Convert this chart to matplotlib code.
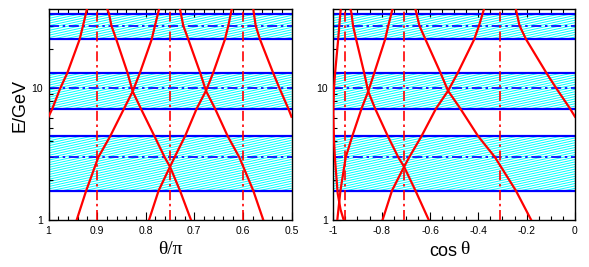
import numpy as np
import matplotlib
matplotlib.use("Agg")
import matplotlib.pyplot as plt
from matplotlib.collections import LineCollection
from matplotlib.ticker import NullFormatter, FixedLocator

# energy bands (GeV): lower edge, centre, upper edge
BAND_LO = [1.67, 7.04, 23.6]
BAND_MID = [3.0, 10.0, 30.0]
BAND_HI = [4.34, 13.2, 36.9]

# marked zenith angles (theta/pi)
THETA_MARKS = [0.9, 0.75, 0.6]

# red curves as (theta/pi, E/GeV)
R1_T = [1.0, 0.992, 0.976, 0.961, 0.936, 0.929, 0.921]
R1_E = [6.1, 7.04, 10.0, 13.2, 23.6, 30.0, 40.0]
R2_T = [0.942, 0.9225, 0.8975, 0.873, 0.8445, 0.8268, 0.8117, 0.7877, 0.781, 0.7726]
R2_E = [1.0, 1.67, 3.0, 4.34, 7.04, 9.5, 13.2, 23.6, 30.0, 40.0]
R3_T = [0.7932, 0.7735, 0.75, 0.7406, 0.719, 0.695, 0.676, 0.661, 0.637, 0.63, 0.623]
R3_E = [1.0, 1.67, 2.54, 3.0, 4.34, 7.04, 9.6, 13.2, 23.6, 30.0, 40.0]
D1_T = [0.879, 0.8755, 0.8705, 0.8605, 0.8375, 0.8268, 0.810, 0.782, 0.761, 0.75, 0.7294, 0.7068]
D1_E = [40.0, 37.0, 30.0, 23.6, 13.2, 9.5, 7.04, 4.34, 3.0, 2.54, 1.67, 1.0]
D2_T = [0.7294, 0.7226, 0.7123, 0.688, 0.676, 0.6574, 0.6313, 0.6074, 0.5786, 0.558]
D2_E = [40.0, 30.0, 23.6, 13.2, 9.6, 7.04, 4.34, 3.0, 1.67, 1.0]
D3_T = [0.5786, 0.5737, 0.5648, 0.538, 0.5245, 0.5066, 0.5]
D3_E = [40.0, 30.0, 23.6, 13.2, 10.0, 7.04, 6.1]

# extra branch only seen in the cos(theta) panel
X_COS = [-1.0, -0.997, -0.993, -0.982, -0.970, -0.957]
X_E = [6.1, 4.0, 2.9, 1.6, 1.2, 1.0]

CURVES = [(R1_T, R1_E), (R2_T, R2_E), (R3_T, R3_E),
          (D1_T, D1_E), (D2_T, D2_E), (D3_T, D3_E)]

RED = "#ff0000"
BLUE = "#0000ff"
CYAN = "#00ffff"
SANS = "Liberation Sans"
SERIF = "Liberation Serif"

W_PX, H_PX = 589, 267
E_MIN, E_MAX = 1.0, 40.0


def hatch_band(ax, lo, hi, w_px, h_px):
    # band edges in axes fraction (log y axis)
    y0 = np.log(lo / E_MIN) / np.log(E_MAX / E_MIN)
    y1 = np.log(hi / E_MIN) / np.log(E_MAX / E_MIN)
    slope = 0.22 * w_px / h_px       # shallow rising lines
    step = 2.4 / h_px
    segs = []
    for c in np.arange(y0 - slope, y1 + step, step):
        xa = max(0.0, (y0 - c) / slope)
        xb = min(1.0, (y1 - c) / slope)
        if xb <= xa:
            continue
        segs.append([(xa, c + slope * xa), (xb, c + slope * xb)])
    lc = LineCollection(segs, colors=CYAN, linewidths=0.7,
                        transform=ax.transAxes, zorder=1)
    ax.add_collection(lc, autolim=False)


def style_axis(ax):
    ax.set_yscale("log")
    ax.set_ylim(E_MIN, E_MAX)
    ax.yaxis.set_major_locator(FixedLocator([1, 10]))
    ax.yaxis.set_minor_locator(FixedLocator([2, 3, 4, 5, 6, 7, 8, 9, 20, 30]))
    ax.yaxis.set_minor_formatter(NullFormatter())
    ax.set_yticklabels(["1", "10"])
    ax.tick_params(which="both", direction="in", top=True, right=False,
                   labelsize=7.5, pad=4, width=0.8)
    ax.tick_params(which="major", length=5.5)
    ax.tick_params(which="minor", length=3)
    for lab in ax.get_xticklabels() + ax.get_yticklabels():
        lab.set_family(SANS)
    for s in ax.spines.values():
        s.set_linewidth(1.0)


fig = plt.figure(figsize=(W_PX / 100, H_PX / 100), dpi=100)
ax1 = fig.add_axes([48.5 / W_PX, 47 / H_PX, 243 / W_PX, 210.7 / H_PX])
ax2 = fig.add_axes([333.3 / W_PX, 47 / H_PX, 241.7 / W_PX, 210.7 / H_PX])

ax1.set_xlim(1, 0.5)
ax1.xaxis.set_major_locator(FixedLocator([1, 0.9, 0.8, 0.7, 0.6, 0.5]))
ax1.xaxis.set_minor_locator(FixedLocator(np.arange(0.5, 1.0, 0.02)))
ax1.set_xticklabels(["1", "0.9", "0.8", "0.7", "0.6", "0.5"])

ax2.set_xlim(-1, 0)
ax2.xaxis.set_major_locator(FixedLocator([-1, -0.8, -0.6, -0.4, -0.2, 0]))
ax2.xaxis.set_minor_locator(FixedLocator(np.arange(-1, 0.0, 0.05)))
ax2.set_xticklabels(["-1", "-0.8", "-0.6", "-0.4", "-0.2", "0"])

dashdot = (0, (6, 2.2, 1.5, 2.2))

for ax, w in ((ax1, 243), (ax2, 241.7)):
    style_axis(ax)
    for lo, mid, hi in zip(BAND_LO, BAND_MID, BAND_HI):
        hatch_band(ax, lo, hi, w, 210.7)
        ax.axhline(lo, color=BLUE, lw=1.6, zorder=2)
        ax.axhline(hi, color=BLUE, lw=1.6, zorder=2)
        ax.axhline(mid, color=BLUE, lw=1.2, ls=dashdot, zorder=2)

# left panel: theta/pi
for t in THETA_MARKS:
    ax1.axvline(t, color=RED, lw=1.2, ls=dashdot, zorder=3)
for t, e in CURVES:
    ax1.plot(t, e, color=RED, lw=1.6, zorder=4, solid_joinstyle="round")

# right panel: same curves against cos(theta)
for t in THETA_MARKS:
    ax2.axvline(np.cos(np.pi * t), color=RED, lw=1.2, ls=dashdot, zorder=3)
for t, e in CURVES:
    ax2.plot(np.cos(np.pi * np.array(t)), e, color=RED, lw=1.6, zorder=4,
             solid_joinstyle="round")
ax2.plot(X_COS, X_E, color=RED, lw=1.6, zorder=4)

fig.text(20 / W_PX, 1 - 105 / H_PX, "E/GeV", rotation=90, ha="center",
         va="center", fontsize=13, family=SANS)
fig.text(170 / W_PX, 1 - 249 / H_PX, "\u03b8/\u03c0", ha="center",
         va="center", fontsize=14, family=SERIF)
fig.text(457 / W_PX, 1 - 251 / H_PX, "cos", ha="right", va="center",
         fontsize=13, family=SANS)
fig.text(460 / W_PX, 1 - 250 / H_PX, "\u03b8", ha="left", va="center",
         fontsize=14, family=SERIF)

fig.savefig("out.png", dpi=100)
